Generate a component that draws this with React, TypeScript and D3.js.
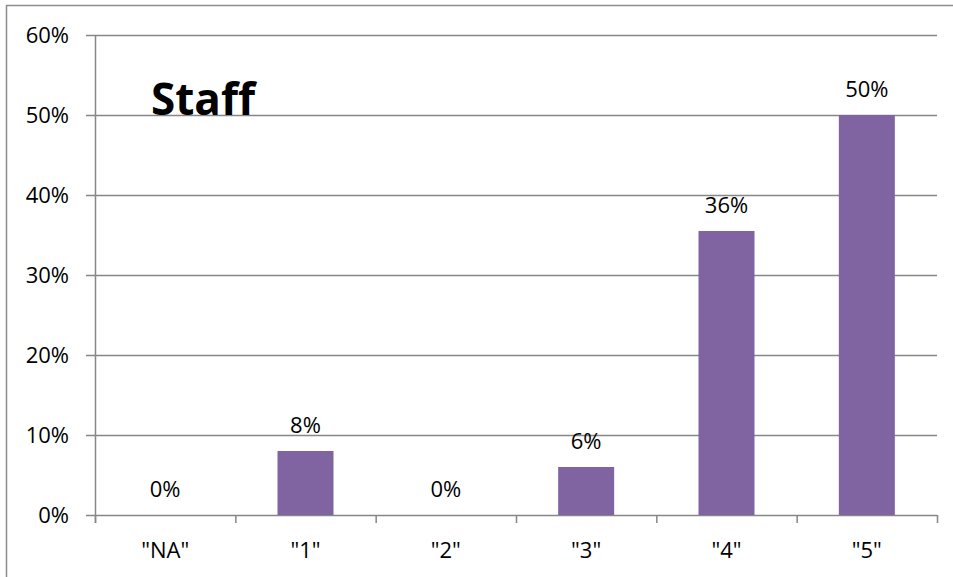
import React from "react";
import * as d3 from "d3";

const categories = ['"NA"', '"1"', '"2"', '"3"', '"4"', '"5"'];
const values = [0, 8, 0, 6, 35.5, 50];
const valueLabels = ["0%", "8%", "0%", "6%", "36%", "50%"];
const yTicks = [0, 10, 20, 30, 40, 50, 60];
const title = "Staff";

const W = 953;
const H = 577;
const left = 95;
const right = 937;
const top = 35;
const bottom = 515;
const font = "'Open Sans', 'Noto Sans', sans-serif";

export default function App() {
  const band = (right - left) / categories.length;
  const y = d3.scaleLinear().domain([0, 60]).range([bottom, top]);
  const barW = 56;
  const gridColor = "#868686";
  const fs = 22;
  return (
    <svg width={W} height={H} style={{ position: "absolute", left: 0, top: 0, background: "#fff" }}>
      <rect x={0} y={0} width={W} height={H} fill="#fff" />
      <rect x={6.5} y={5.5} width={W + 10} height={H + 10} fill="none" stroke="#8c8c8c" strokeWidth={1.5} />
      {yTicks.map((t) => (
        <g key={t}>
          <line x1={86} x2={right} y1={y(t) + 0.5} y2={y(t) + 0.5} stroke={gridColor} strokeWidth={1.5} />
          <text x={69} y={y(t)} dy="0.35em" textAnchor="end" fontFamily={font} fontSize={fs} fill="#000">
            {t}%
          </text>
        </g>
      ))}
      <line x1={left + 0.5} x2={left + 0.5} y1={top} y2={bottom + 8} stroke={gridColor} strokeWidth={1.5} />
      {d3.range(categories.length + 1).map((i) => (
        <line key={i} x1={left + i * band + 0.5} x2={left + i * band + 0.5} y1={bottom} y2={bottom + 8} stroke={gridColor} strokeWidth={1.5} />
      ))}
      {categories.map((c, i) => {
        const cx = left + band * (i + 0.5);
        const v = values[i];
        return (
          <g key={c}>
            {v > 0 && (
              <rect x={cx - barW / 2} y={y(v)} width={barW} height={bottom - y(v)} fill="#8064A2" />
            )}
            <text x={cx} y={y(v) - 18} textAnchor="middle" fontFamily={font} fontSize={fs} fill="#000">
              {valueLabels[i]}
            </text>
            <text x={cx} y={558} textAnchor="middle" fontFamily={font} fontSize={fs} fill="#000">
              {c}
            </text>
          </g>
        );
      })}
      <text x={151} y={115} fontFamily={font} fontWeight="bold" fontSize={44} fill="#000">
        {title}
      </text>
    </svg>
  );
}
